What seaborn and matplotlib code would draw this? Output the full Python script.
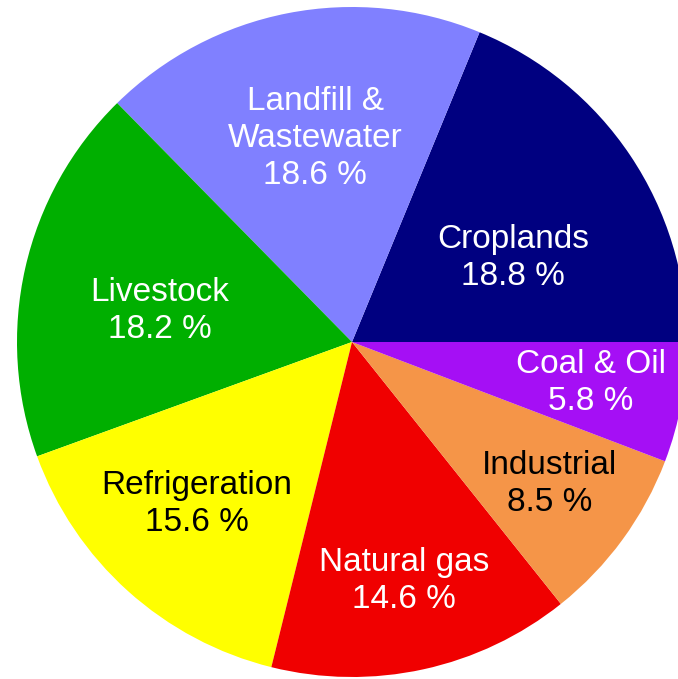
import matplotlib
matplotlib.use("Agg")
import matplotlib.pyplot as plt
import seaborn as sns

# Methane emission sources (% share)
categories = ["Croplands", "Landfill &\nWastewater", "Livestock", "Refrigeration",
              "Natural gas", "Industrial", "Coal & Oil"]
shares = [18.8, 18.6, 18.2, 15.6, 14.6, 8.5, 5.8]
colors = ["#000080", "#8080FF", "#00AF00", "#FFFF00", "#F00000", "#F59548", "#A50FF5"]
text_colors = ["white", "white", "white", "black", "white", "black", "white"]
# label anchor points in pie units (center = 0, radius = 1)
label_pos = [(0.481, 0.252), (-0.110, 0.608), (-0.573, 0.094), (-0.463, -0.485),
             (0.155, -0.714), (0.591, -0.425), (0.713, -0.123)]

sns.set_style("white")
plt.rcParams["font.family"] = ["Liberation Sans", "DejaVu Sans"]

fig = plt.figure(figsize=(6.78, 6.79), dpi=100)
# pie radius spans 335 px, centred slightly right so the right rim runs off the canvas
ax = fig.add_axes([17 / 678, 2 / 679, 670 / 678, 670 / 679])
ax.axis("off")

wedges, _ = ax.pie(shares, colors=colors, startangle=0, counterclock=True,
                   radius=1, center=(0, 0), frame=False,
                   wedgeprops=dict(linewidth=0, antialiased=True))
for w in wedges:
    w.set_clip_on(False)
ax.set_xlim(-1, 1)
ax.set_ylim(-1, 1)
ax.set_aspect("auto")

for name, val, (x, y), tc in zip(categories, shares, label_pos, text_colors):
    ax.text(x, y, f"{name}\n{val:.1f} %", ha="center", va="center",
            color=tc, fontsize=24, linespacing=1.25)

fig.savefig("out.png", dpi=100, facecolor="white")
